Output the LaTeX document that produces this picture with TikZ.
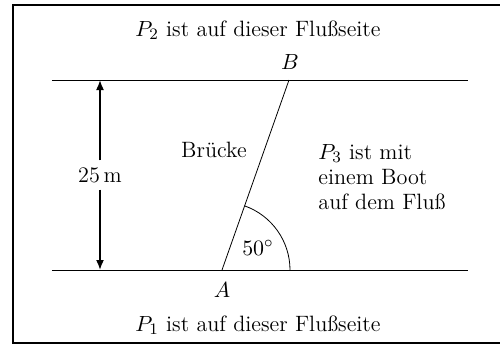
\documentclass[tikz,border=0pt]{standalone}
\usepackage{tikz}
\usetikzlibrary{arrows.meta, calc}
\begin{document}
\begin{tikzpicture}[
x=0.5pt, y=0.5pt,
    every node/.style={font=\fontsize{11.1}{12.5}\selectfont},
    frame/.style={draw, line width=1pt},
    bank/.style={draw, thin},
    bridge/.style={draw, thin},
    side/.style={align=center, inner sep=1pt},
    measure/.style={draw, thick, -{Latex[length=5pt, width=4pt]}}
]
    \useasboundingbox (0,0) rectangle (500,345);

    % Frame
    \draw[frame] (13,2) rectangle (501,340);

    % River banks
    \coordinate (tl) at (52,265);
    \coordinate (tr) at (468,265);
    \coordinate (bl) at (52,75);
    \coordinate (br) at (468,75);
    \draw[bank] (tl) -- (tr);
    \draw[bank] (bl) -- (br);

    % Bridge
    \coordinate (A) at (222,75);
    \coordinate (B) at (289,265);
    \draw[bridge] (A) -- (B);
    \node (lblA) at (222,55) {$A$};
    \node (lblB) at (290,283) {$B$};
    \draw[bank] ($(A)+(68,0)$) arc[start angle=0, end angle=70.6, radius=68];
    \node (angle) at (258,97) {$50^\circ$};

    % Width of the river
    \coordinate (mt) at (100,265);
    \coordinate (mb) at (100,75);
    \node (width) at (100,170) {25\,m};
    \draw[measure] (width) -- (mt);
    \draw[measure] (width) -- (mb);

    % Texts
    \node[side] (p2) at (258,315) {$P_2$ ist auf dieser Flußseite};
    \node[side] (p1) at (258,20) {$P_1$ ist auf dieser Flußseite};
    \node[side] (bruecke) at (214,195) {Brücke};
    \node[side, align=left, anchor=west] (p3) at (316,168) {$P_3$ ist mit\\einem Boot\\auf dem Fluß};

\end{tikzpicture}
\end{document}
